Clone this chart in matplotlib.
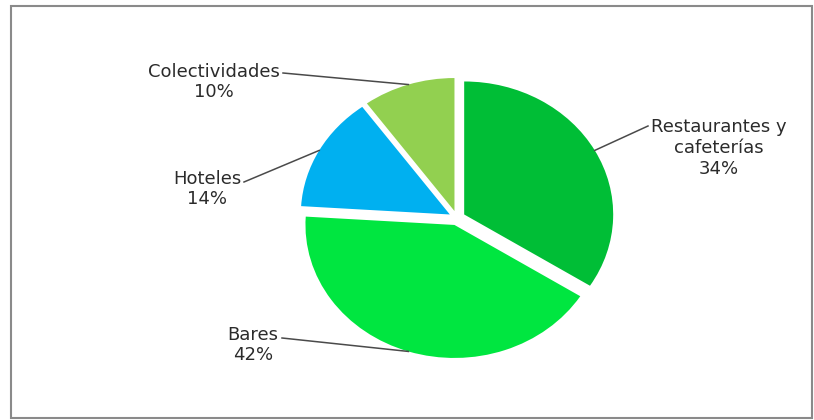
import numpy as np
import matplotlib.pyplot as plt
from matplotlib.patches import Rectangle

# datos del grafico
categorias = ["Restaurantes y\ncafeterías", "Bares", "Hoteles", "Colectividades"]
porcentajes = [34, 42, 14, 10]
colores = ["#00BE36", "#00E640", "#00B0F0", "#92D050"]

plt.rcParams['font.family'] = ['DejaVu Sans']

W, H = 814, 420
fig = plt.figure(figsize=(W / 100, H / 100), dpi=100)
ax = fig.add_axes([0, 0, 1, 1])

# centro de la tarta y escala (px por unidad) -> tarta algo achatada
cx, cy = 457, 218
sx, sy = 149, 133


def px(x, y):
    # pasa pixeles (desde arriba-izquierda) a coordenadas de datos
    return (x - cx) / sx, (cy - y) / sy


explode = [0.055] * 4
wedges, _ = ax.pie(porcentajes, colors=colores, startangle=90, counterclock=False,
                   explode=explode, radius=1.0,
                   wedgeprops=dict(edgecolor="white", linewidth=0))
ax.set_aspect('auto')
ax.set_xlim(-cx / sx, (W - cx) / sx)
ax.set_ylim(-(H - cy) / sy, cy / sy)
ax.axis('off')

# posicion de las etiquetas (layout) y punto donde arranca la linea guia
etiquetas = {
    0: dict(texto=(719, 148), ancla=(648, 126)),
    1: dict(texto=(253, 345), ancla=(282, 338)),
    2: dict(texto=(207, 189), ancla=(244, 182)),
    3: dict(texto=(214, 82), ancla=(283, 73)),
}

for i, w in enumerate(wedges):
    mid = np.deg2rad((w.theta1 + w.theta2) / 2)
    ox, oy = w.center
    p = (ox + w.r * np.cos(mid), oy + w.r * np.sin(mid))
    a = px(*etiquetas[i]["ancla"])
    ax.plot([a[0], p[0]], [a[1], p[1]], color="#4a4a4a", lw=1.1)
    t = px(*etiquetas[i]["texto"])
    ax.text(t[0], t[1], f"{categorias[i]}\n{porcentajes[i]}%", ha="center", va="center",
            fontsize=13, color="#2b2b2b", linespacing=1.2)

# marco gris
fig.patches.append(Rectangle((11 / W, 2 / H), 801 / W, 412 / H, transform=fig.transFigure,
                             fill=False, edgecolor="#8a8a8a", linewidth=1.5))

fig.savefig("out.png", dpi=100)
